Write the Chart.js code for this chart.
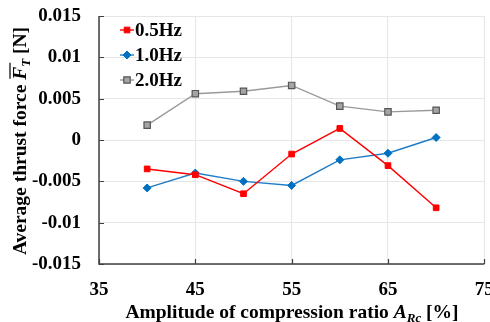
<!DOCTYPE html>
<html><head><meta charset="utf-8">
<script src="https://cdn.jsdelivr.net/npm/chart.js@4/dist/chart.umd.min.js"></script>
<style>html,body{margin:0;padding:0;background:#fff}#wrap{width:490px;height:322px}</style>
</head><body><div id="wrap"><canvas id="c" width="490" height="322"></canvas></div>
<script>
const amplitudes = [40, 45, 50, 55, 60, 65, 70];
const series05 = [-0.0035, -0.0042, -0.0065, -0.0017, 0.0014, -0.0031, -0.0082];
const series10 = [-0.0058, -0.0040, -0.0050, -0.0055, -0.0024, -0.0016, 0.0003];
const series20 = [0.0018, 0.0056, 0.0059, 0.0066, 0.0041, 0.0034, 0.0036];
const seriesLabels = ['0.5Hz', '1.0Hz', '2.0Hz'];
const xTicks = [35, 45, 55, 65, 75];
const yTicks = [-0.015, -0.01, -0.005, 0, 0.005, 0.01, 0.015];

const FONT = '"Liberation Serif", "Times New Roman", serif';
const toXY = arr => arr.map((v, i) => ({x: amplitudes[i], y: v}));

const styles = [
  {color: '#FF0000', fill: '#FF0000', border: '#FF0000', shape: 'rect', r: 4},
  {color: '#1F7DC8', fill: '#0070C0', border: '#0070C0', shape: 'rectRot', r: 4},
  {color: '#9A9A9A', fill: '#A5A5A5', border: '#555555', shape: 'rect', r: 4.5}
];
const datas = [series05, series10, series20];

const datasets = datas.map((d, i) => ({
  label: seriesLabels[i],
  data: toXY(d),
  borderColor: styles[i].color,
  backgroundColor: styles[i].fill,
  pointBackgroundColor: styles[i].fill,
  pointBorderColor: styles[i].border,
  pointBorderWidth: i === 2 ? 1.2 : 1,
  pointStyle: styles[i].shape,
  pointRadius: styles[i].r,
  borderWidth: 1.4,
  tension: 0
}));

function fmtY(v) {
  if (Math.abs(v) < 1e-12) return '0';
  return String(Number(v.toFixed(3)));
}

const decor = {
  id: 'decor',
  afterDraw(chart) {
    const ctx = chart.ctx;
    const xs = chart.scales.x, ys = chart.scales.y;
    const area = chart.chartArea;
    ctx.save();
    ctx.strokeStyle = '#404040';
    ctx.lineWidth = 1.5;
    ctx.beginPath();
    ctx.moveTo(area.left, area.top);
    ctx.lineTo(area.left, area.bottom);
    ctx.lineTo(area.right, area.bottom);
    ctx.stroke();
    ctx.lineWidth = 1.2;
    ctx.beginPath();
    yTicks.forEach(v => {
      const y = Math.round(ys.getPixelForValue(v)) + 0.5;
      ctx.moveTo(area.left, y); ctx.lineTo(area.left + 5, y);
    });
    xTicks.forEach(v => {
      const x = Math.round(xs.getPixelForValue(v)) + 0.5;
      ctx.moveTo(x, area.bottom); ctx.lineTo(x, area.bottom - 5);
    });
    ctx.stroke();

    // legend
    ctx.textBaseline = 'middle';
    ctx.textAlign = 'left';
    ctx.font = 'bold 19px ' + FONT;
    const lx = 120, ly = [30, 55, 80];
    chart.data.datasets.forEach((ds, i) => {
      const y = ly[i];
      ctx.strokeStyle = ds.borderColor; ctx.lineWidth = 1.4;
      ctx.beginPath(); ctx.moveTo(lx, y); ctx.lineTo(lx + 14, y); ctx.stroke();
      ctx.fillStyle = ds.pointBackgroundColor; ctx.strokeStyle = ds.pointBorderColor; ctx.lineWidth = ds.pointBorderWidth;
      Chart.helpers.drawPoint(ctx, {pointStyle: ds.pointStyle, radius: ds.pointRadius, borderWidth: ds.pointBorderWidth}, lx + 7, y);
      ctx.fillStyle = '#000';
      ctx.fillText(ds.label, lx + 15, y + 1);
    });

    // x-axis title
    ctx.fillStyle = '#000';
    ctx.textBaseline = 'alphabetic';
    const parts = [
      {t: 'Amplitude of compression ratio ', f: 'bold 19.5px ' + FONT, dy: 0},
      {t: 'A', f: 'italic bold 19.5px ' + FONT, dy: 0},
      {t: 'Rc', f: 'italic bold 13px ' + FONT, dy: 4},
      {t: ' [%]', f: 'bold 19.5px ' + FONT, dy: 0}
    ];
    let total = 0;
    parts.forEach(p => { ctx.font = p.f; p.w = ctx.measureText(p.t).width; total += p.w; });
    let x = 292 - total / 2;
    const by = 318;
    parts.forEach(p => { ctx.font = p.f; ctx.fillText(p.t, x, by + p.dy); x += p.w; });

    // y-axis title (rotated)
    ctx.save();
    ctx.translate(26, 141);
    ctx.rotate(-Math.PI / 2);
    const yparts = [
      {t: 'Average thrust force ', f: 'bold 19.5px ' + FONT, dy: 0},
      {t: 'F', f: 'italic bold 19.5px ' + FONT, dy: 0, over: true},
      {t: 'T', f: 'italic bold 13px ' + FONT, dy: 4},
      {t: ' [N]', f: 'bold 19.5px ' + FONT, dy: 0}
    ];
    total = 0;
    yparts.forEach(p => { ctx.font = p.f; p.w = ctx.measureText(p.t).width; total += p.w; });
    x = -total / 2;
    yparts.forEach(p => {
      ctx.font = p.f; ctx.fillText(p.t, x, p.dy);
      if (p.over) {
        ctx.strokeStyle = '#000'; ctx.lineWidth = 1.2;
        ctx.beginPath(); ctx.moveTo(x + 1, -16); ctx.lineTo(x + p.w + 4, -16); ctx.stroke();
      }
      x += p.w;
    });
    ctx.restore();
    ctx.restore();
  }
};

new Chart(document.getElementById('c'), {
  type: 'line',
  data: {datasets},
  options: {
    responsive: false,
    animation: false,
    devicePixelRatio: 1,
    layout: {padding: {left: 0, right: 5, top: 16, bottom: 0}},
    plugins: {legend: {display: false}, tooltip: {enabled: false}},
    scales: {
      x: {
        type: 'linear', min: 35, max: 75,
        afterBuildTicks: s => { s.ticks = xTicks.map(v => ({value: v})); },
        afterFit: s => { s.height = 58; s.paddingLeft = 0; s.paddingRight = 0; },
        grid: {color: '#E6E6E6', lineWidth: 1, drawTicks: false},
        border: {display: false},
        ticks: {color: '#000', padding: 15, font: {family: FONT, size: 19, weight: 'bold'}, maxRotation: 0, autoSkip: false}
      },
      y: {
        type: 'linear', min: -0.015, max: 0.015,
        afterBuildTicks: s => { s.ticks = yTicks.map(v => ({value: v})); },
        afterFit: s => { s.width = 99; s.paddingTop = 0; s.paddingBottom = 0; },
        grid: {color: '#E6E6E6', lineWidth: 1, drawTicks: false},
        border: {display: false},
        ticks: {color: '#000', padding: 18, font: {family: FONT, size: 19, weight: 'bold'}, callback: v => fmtY(v), autoSkip: false}
      }
    }
  },
  plugins: [decor]
});
</script></body></html>
